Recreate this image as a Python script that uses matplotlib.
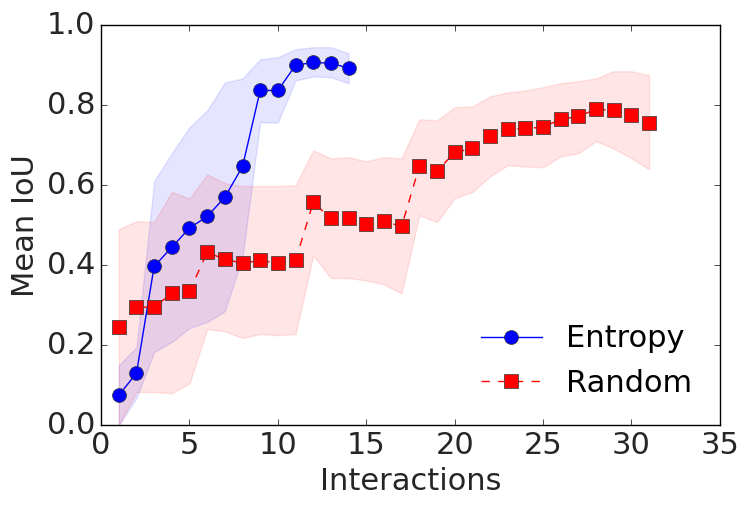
import numpy as np
import matplotlib
matplotlib.use('Agg')
import matplotlib.pyplot as plt

plt.style.use('classic')
plt.rcParams['font.family'] = ['DejaVu Sans']

# Entropy
x_ent = np.arange(1, 15)
ent_mean = [0.075, 0.13, 0.397, 0.445, 0.493, 0.522, 0.57, 0.647, 0.837, 0.837,
            0.90, 0.907, 0.905, 0.893]
ent_up = [0.15, 0.195, 0.61, 0.68, 0.745, 0.787, 0.857, 0.867, 0.915, 0.92,
          0.94, 0.945, 0.945, 0.93]
ent_lo = [0.0, 0.068, 0.183, 0.208, 0.243, 0.258, 0.285, 0.42, 0.757, 0.757,
          0.862, 0.872, 0.87, 0.855]

# Random
x_rnd = np.arange(1, 32)
rnd_mean = [0.245, 0.295, 0.295, 0.33, 0.335, 0.432, 0.415, 0.405, 0.412, 0.405,
            0.412, 0.557, 0.517, 0.517, 0.503, 0.51, 0.497, 0.647, 0.635, 0.682,
            0.692, 0.722, 0.74, 0.742, 0.745, 0.765, 0.772, 0.79, 0.787, 0.775,
            0.755]
rnd_up = [0.49, 0.51, 0.508, 0.583, 0.567, 0.627, 0.605, 0.598, 0.598, 0.598,
          0.60, 0.687, 0.667, 0.67, 0.66, 0.67, 0.667, 0.765, 0.762, 0.795,
          0.797, 0.822, 0.832, 0.837, 0.845, 0.855, 0.86, 0.867, 0.885, 0.885,
          0.875]
rnd_lo = [0.0, 0.083, 0.083, 0.08, 0.105, 0.24, 0.235, 0.218, 0.228, 0.225,
          0.228, 0.425, 0.368, 0.368, 0.362, 0.352, 0.33, 0.525, 0.508, 0.567,
          0.583, 0.622, 0.65, 0.647, 0.645, 0.672, 0.68, 0.71, 0.692, 0.667,
          0.64]

fig = plt.figure(figsize=(7.49, 5.05), dpi=100)
fig.patch.set_facecolor('white')
ax = fig.add_axes([0.135, 0.158, 0.826, 0.792])

ax.fill_between(x_ent, ent_lo, ent_up, color='blue', alpha=0.1, edgecolor='blue', linewidth=1)
ax.fill_between(x_rnd, rnd_lo, rnd_up, color='red', alpha=0.1, edgecolor='red', linewidth=1)
ax.plot(x_ent, ent_mean, 'o-', color='blue', markersize=10, markeredgecolor='#333333',
        label='Entropy')
ax.plot(x_rnd, rnd_mean, 's--', color='red', markersize=10, markeredgecolor='#333333',
        label='Random')

ax.set_xlim(0, 35)
ax.set_ylim(0, 1.0)
ax.set_xlabel('Interactions', fontsize=22, color='#262626')
ax.set_ylabel('Mean IoU', fontsize=22, color='#262626')
ax.tick_params(labelsize=22, labelcolor='#262626')
ax.legend(loc='lower right', frameon=False, fontsize=22, numpoints=1)

plt.savefig('out.png', dpi=100, facecolor='white')
